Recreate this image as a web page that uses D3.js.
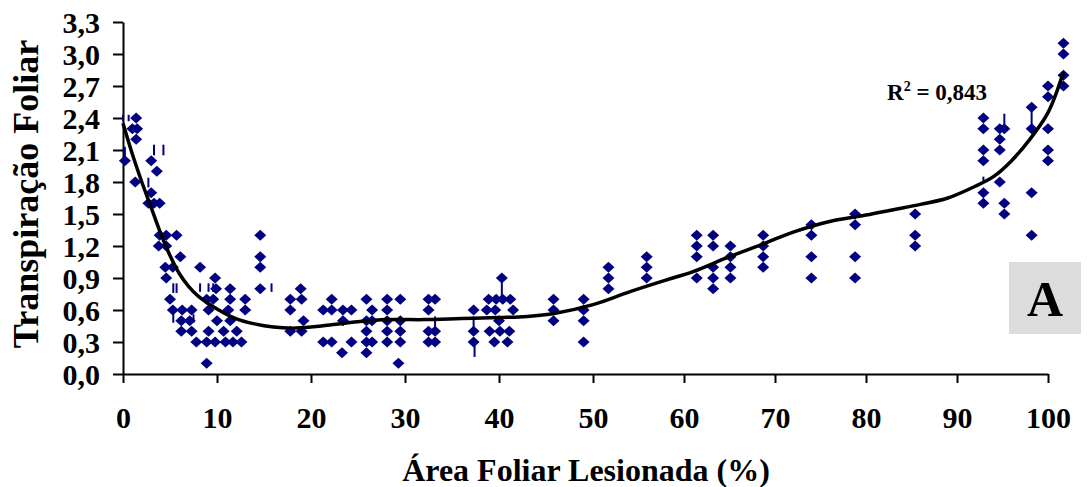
<!DOCTYPE html>
<html>
<head>
<meta charset="utf-8">
<script src="https://cdn.jsdelivr.net/npm/d3@7"></script>
<style>
  html, body { margin: 0; padding: 0; background: #fff; }
  svg text { font-family: "Liberation Serif", "Times New Roman", serif; font-weight: bold; fill: #000; }
</style>
</head>
<body>
<svg id="grafico" width="1091" height="487"></svg>
<script>
// eixo X: área foliar lesionada (%), eixo Y: transpiração foliar
var xTicks = [0, 10, 20, 30, 40, 50, 60, 70, 80, 90, 100];
var yTicks = [0, 0.3, 0.6, 0.9, 1.2, 1.5, 1.8, 2.1, 2.4, 2.7, 3.0, 3.3];

// observações [lesão %, transpiração]
var pontos = [
    [0.2, 2.0],
    [1.0, 2.3], [1.5, 2.3], [1.4, 2.4], [1.4, 2.2], [1.3, 1.8],
    [3.0, 2.0], [3.6, 1.9], [3.0, 1.7], [2.7, 1.6], [3.3, 1.6], [3.9, 1.6],
    [3.9, 1.3], [4.6, 1.3], [5.7, 1.3], [3.8, 1.2], [4.6, 1.2], [6.1, 1.1],
    [4.5, 1.0], [5.3, 1.0], [4.6, 0.9],
    [5.0, 0.7], [5.3, 0.6], [6.3, 0.6], [7.3, 0.6], [6.2, 0.5], [7.1, 0.5],
    [6.2, 0.4], [7.3, 0.4], [7.8, 0.3],
    [8.2, 1.0], [9.8, 0.9], [9.9, 0.8], [11.4, 0.8],
    [8.9, 0.7], [9.6, 0.7], [11.4, 0.7], [13.0, 0.7],
    [9.1, 0.6], [11.2, 0.6], [13.0, 0.6],
    [10.0, 0.5], [11.4, 0.5],
    [9.1, 0.4], [10.7, 0.4], [12.1, 0.4],
    [8.9, 0.3], [9.8, 0.3], [10.9, 0.3], [11.7, 0.3], [12.6, 0.3],
    [8.9, 0.1],
    [14.6, 1.3], [14.6, 1.1], [14.6, 1.0], [14.6, 0.8],
    [17.8, 0.7], [17.8, 0.6], [17.8, 0.4],
    [18.9, 0.8], [19.0, 0.7], [19.2, 0.5], [19.0, 0.4],
    [21.3, 0.6], [21.3, 0.3],
    [22.2, 0.7], [22.2, 0.6], [22.2, 0.3],
    [23.4, 0.6], [23.4, 0.5], [23.3, 0.2],
    [24.3, 0.6], [24.3, 0.3],
    [25.9, 0.7], [25.9, 0.5], [25.9, 0.4], [25.9, 0.3], [25.9, 0.2],
    [26.5, 0.6], [26.5, 0.5], [26.5, 0.3],
    [28.1, 0.7], [28.1, 0.6], [28.1, 0.5], [28.1, 0.4], [28.1, 0.3],
    [29.5, 0.7], [29.5, 0.5], [29.5, 0.4], [29.5, 0.3], [29.3, 0.1],
    [32.5, 0.7], [32.5, 0.6], [32.5, 0.4], [32.5, 0.3],
    [33.2, 0.7], [33.2, 0.4], [33.2, 0.3],
    [37.3, 0.6], [37.3, 0.4], [37.3, 0.3],
    [38.9, 0.7], [38.7, 0.6], [39.0, 0.4], [39.5, 0.3], [39.6, 0.6],
    [39.7, 0.7], [40.4, 0.7], [41.2, 0.7], [40.3, 0.9], [41.5, 0.6],
    [40.0, 0.5], [40.1, 0.4], [41.1, 0.4], [40.9, 0.3],
    [45.8, 0.7], [45.8, 0.6], [45.8, 0.5],
    [49.0, 0.7], [49.0, 0.6], [49.0, 0.5], [49.0, 0.3],
    [51.7, 1.0], [51.7, 0.9], [51.7, 0.8],
    [55.9, 1.1], [55.9, 1.0], [55.9, 0.9],
    [61.4, 1.3], [61.4, 1.2], [61.4, 1.1], [61.4, 0.9],
    [63.2, 1.3], [63.2, 1.2], [63.2, 1.0], [63.2, 0.9], [63.2, 0.8],
    [65.1, 1.2], [65.1, 1.1], [65.1, 1.0], [65.1, 0.9],
    [68.7, 1.3], [68.7, 1.2], [68.7, 1.1], [68.7, 1.0],
    [74.0, 1.4], [74.0, 1.3], [74.0, 1.1], [74.0, 0.9],
    [78.8, 1.5], [78.8, 1.4], [78.8, 1.1], [78.8, 0.9],
    [85.4, 1.5], [85.4, 1.3], [85.4, 1.2],
    [92.9, 2.4], [92.9, 2.3], [92.9, 2.1], [92.9, 2.0], [92.9, 1.7], [92.9, 1.6],
    [94.7, 2.3], [95.2, 2.3], [94.7, 2.2], [94.7, 2.1], [94.7, 1.8], [95.2, 1.6], [95.2, 1.5],
    [98.2, 2.5], [98.2, 2.3], [98.2, 1.7], [98.2, 1.3],
    [100, 2.7], [100, 2.6], [100, 2.3], [100, 2.1], [100, 2.0],
    [101.7, 3.1], [101.7, 3.0], [101.7, 2.8], [101.7, 2.7]
];

// pequenos traços verticais [lesão %, y inicial, y final]
var tracos = [
    [0.0, 2.37, 2.43], [0.6, 2.37, 2.43], [0.2, 2.04, 2.13],
    [3.3, 2.05, 2.15], [4.3, 2.05, 2.15], [2.7, 1.75, 1.84],
    [5.35, 0.76, 0.85], [5.7, 0.76, 0.85],
    [8.2, 0.77, 0.85], [9.1, 0.77, 0.85], [9.6, 0.77, 0.85],
    [5.35, 0.48, 0.57], [7.5, 0.48, 0.56], [15.8, 0.77, 0.85],
    [33.2, 0.41, 0.54], [37.3, 0.44, 0.54], [37.4, 0.16, 0.29],
    [40.3, 0.72, 0.87], [92.9, 1.79, 1.85], [95.2, 2.33, 2.44], [98.2, 2.29, 2.49]
];

// linha de tendência
var tendencia = [
    [0, 2.35], [1, 2.06], [2, 1.8], [3, 1.56], [4, 1.32], [5, 1.11], [6, 0.94],
    [7, 0.82], [8, 0.73], [10, 0.61], [12, 0.52], [14, 0.47], [16, 0.44],
    [18, 0.43], [20, 0.44], [22, 0.46], [25, 0.49], [28, 0.51], [32, 0.51],
    [36, 0.52], [40, 0.53], [43, 0.54], [46, 0.57], [50, 0.65], [54, 0.77],
    [58, 0.88], [61, 0.96], [65, 1.1], [69, 1.23], [72, 1.33], [76, 1.43],
    [80, 1.49], [83, 1.54], [86, 1.59], [89, 1.65], [92, 1.76], [94, 1.85],
    [96, 2.0], [98, 2.2], [100, 2.45], [101.7, 2.83]
];

var r2Texto = "0,843";

var svg = d3.select("#grafico");

var x = d3.scaleLinear().domain([0, 50, 100]).range([123, 593, 1048]);
var y = d3.scaleLinear().domain([0, 3.3]).range([374, 22]);

var br = d3.formatLocale({ decimal: ",", thousands: ".", grouping: [3], currency: ["R$", ""] });
var fmt = br.format(".1f");

// eixos
var eixoX = svg.append("g")
    .attr("transform", "translate(0,374)")
    .call(d3.axisBottom(x).tickValues(xTicks).tickSize(9).tickSizeOuter(0));
eixoX.selectAll("text").attr("y", 54).attr("dy", 0).style("font-size", "30px");

var eixoY = svg.append("g")
    .attr("transform", "translate(123,0)")
    .call(d3.axisLeft(y).tickValues(yTicks).tickFormat(fmt).tickSize(10).tickSizeOuter(0).tickPadding(13));
eixoY.selectAll("text").attr("dy", "0.34em").style("font-size", "30px");

svg.selectAll(".domain, .tick line").attr("stroke", "#000").attr("stroke-width", 2);

// traços
svg.append("g")
    .selectAll("line")
    .data(tracos)
    .enter()
    .append("line")
    .attr("x1", d => x(d[0]))
    .attr("x2", d => x(d[0]))
    .attr("y1", d => y(d[1]))
    .attr("y2", d => y(d[2]))
    .attr("stroke", "#000080")
    .attr("stroke-width", 2);

// pontos em losango
var meiaL = 6, meiaA = 5.5;
svg.append("g")
    .selectAll("path")
    .data(pontos)
    .enter()
    .append("path")
    .attr("d", d => {
        var cx = x(d[0]), cy = y(d[1]);
        return "M" + cx + "," + (cy - meiaA) + "L" + (cx + meiaL) + "," + cy +
            "L" + cx + "," + (cy + meiaA) + "L" + (cx - meiaL) + "," + cy + "Z";
    })
    .attr("fill", "#000080");

// tendência
svg.append("path")
    .datum(tendencia)
    .attr("fill", "none")
    .attr("stroke", "#000")
    .attr("stroke-width", 3.5)
    .attr("d", d3.line().x(d => x(d[0])).y(d => y(d[1])).curve(d3.curveCatmullRom));

// R²
var r2 = svg.append("text")
    .attr("x", 887)
    .attr("y", 100)
    .style("font-size", "23px");
r2.append("tspan").text("R");
r2.append("tspan").attr("dy", -9).style("font-size", "14px").text("2");
r2.append("tspan").attr("dy", 9).text(" = " + r2Texto);

// caixa A
svg.append("rect")
    .attr("x", 1009).attr("y", 262)
    .attr("width", 72).attr("height", 72)
    .attr("fill", "#dcdcdc");
svg.append("text")
    .attr("x", 1045).attr("y", 316)
    .attr("text-anchor", "middle")
    .style("font-size", "50px")
    .text("A");

// títulos
svg.append("text")
    .attr("x", 586).attr("y", 481)
    .attr("text-anchor", "middle")
    .style("font-size", "32px")
    .text("Área Foliar Lesionada (%)");

svg.append("text")
    .attr("transform", "translate(38,194) rotate(-90)")
    .attr("text-anchor", "middle")
    .style("font-size", "36px")
    .text("Transpiração Foliar");
</script>
</body>
</html>
